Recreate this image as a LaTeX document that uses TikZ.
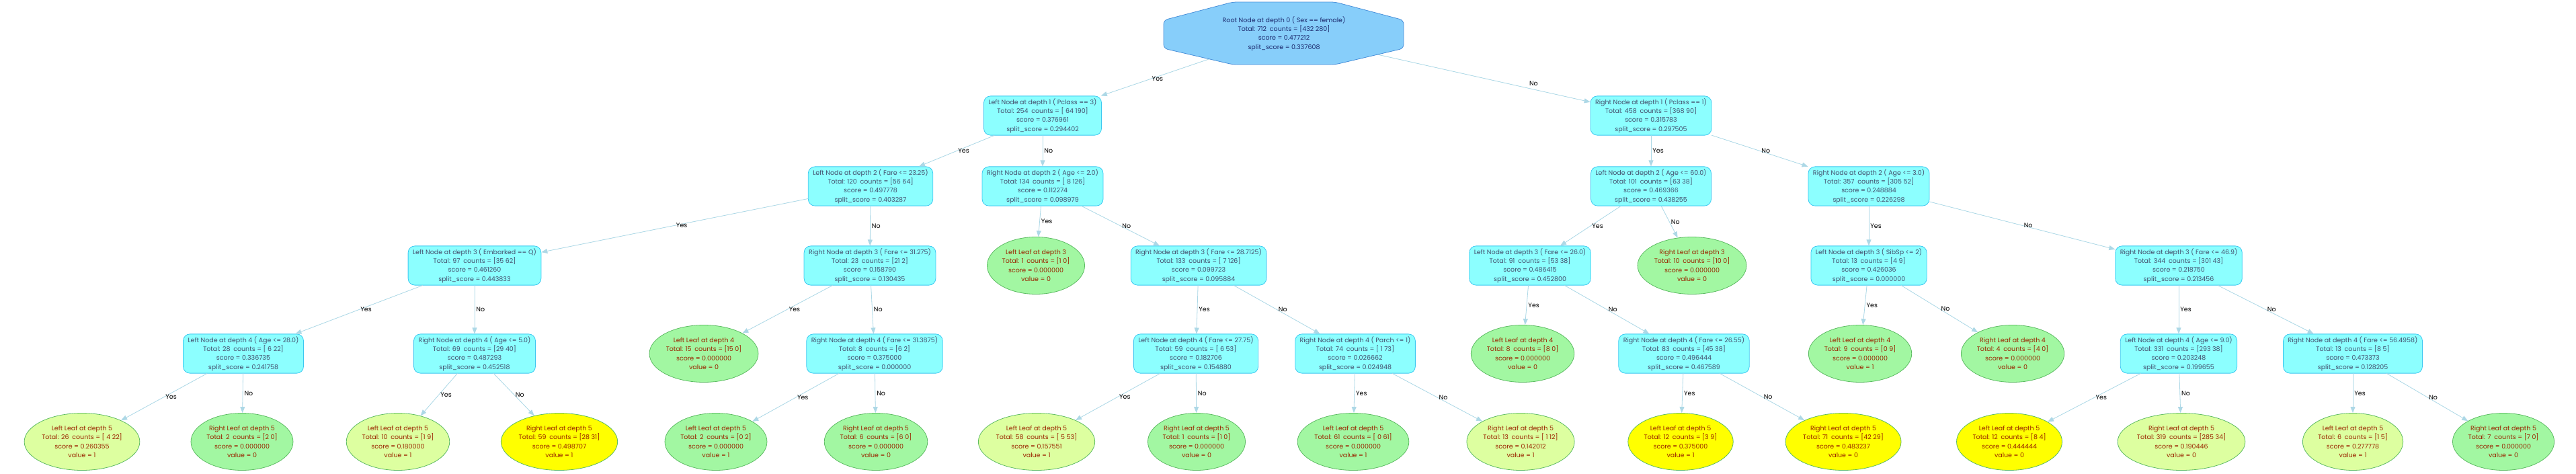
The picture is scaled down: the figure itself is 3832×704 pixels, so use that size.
\documentclass[tikz,border=0pt]{standalone}
\usepackage{fontspec}
\setmainfont{Poppins}
\usetikzlibrary{arrows.meta,shapes.geometric}
\definecolor{boxfill}{HTML}{8CFFFF}
\definecolor{boxline}{HTML}{3CC8F0}
\definecolor{boxtext}{HTML}{44506E}
\definecolor{rootfill}{HTML}{87CEFA}
\definecolor{rootline}{HTML}{4A90D9}
\definecolor{roottext}{HTML}{1C2A6E}
\definecolor{leafgreen}{HTML}{A2F7A2}
\definecolor{leaflight}{HTML}{DDFFA0}
\definecolor{leafyellow}{HTML}{FFFF00}
\definecolor{leafline}{HTML}{5DBB63}
\definecolor{leaftext}{HTML}{9A2500}
\definecolor{edgeblue}{HTML}{ADD8E6}
\pgfdeclarelayer{edgelayer}
\pgfdeclarelayer{shapelayer}
\pgfsetlayers{edgelayer,shapelayer,main}
\newcommand{\nodetext}[5]{#1\\Total: #2\enspace counts = [#3]\\score = #4\\split\_score = #5}
\newcommand{\leaftext}[5]{#1\\Total: #2\enspace counts = [#3]\\score = #4\\value = #5}

\begin{document}
\begin{tikzpicture}[x=1pt,y=-1pt,line cap=round,line join=round,>={Triangle[length=9pt,width=7pt]},
  every node/.style={font=\fontsize{9.5}{13.3}\selectfont,align=center},
  splitbox/.style={rectangle,rounded corners=10pt,draw=boxline,fill=boxfill,text=boxtext,inner xsep=7pt,inner ysep=3.5pt,line width=0.8pt},
  rootbox/.style={text=roottext,minimum width=357pt,minimum height=93pt},
  leafnode/.style={ellipse,draw=leafline,fill=leafgreen,text=leaftext,inner sep=1pt,minimum height=85pt,line width=0.8pt},
  lightleaf/.style={leafnode,fill=leaflight},
  yellowleaf/.style={leafnode,fill=leafyellow},
  branch/.style={->,draw=edgeblue,fill=edgeblue,line width=0.8pt},
  answer/.style={right,text=black,fill=none,inner sep=2pt}]
\useasboundingbox (0,0) rectangle (3832,704);
\node[rootbox] (root) at (1910,50) {\nodetext{Root Node at depth 0 ( Sex == female)}{712}{432 280}{0.477212}{0.337608}};
\node[splitbox] (l1) at (1551,172) {\nodetext{Left Node at depth 1 ( Pclass == 3)}{254}{ 64 190}{0.376961}{0.294402}};
\node[splitbox] (r1) at (2456,172) {\nodetext{Right Node at depth 1 ( Pclass == 1)}{458}{368 90}{0.315783}{0.297505}};
\node[splitbox] (l2a) at (1295,277) {\nodetext{Left Node at depth 2 ( Fare <= 23.25)}{120}{56 64}{0.497778}{0.403287}};
\node[splitbox] (r2a) at (1551,277) {\nodetext{Right Node at depth 2 ( Age <= 2.0)}{134}{ 8 126}{0.112274}{0.098979}};
\node[splitbox] (l2b) at (2456,277) {\nodetext{Left Node at depth 2 ( Age <= 60.0)}{101}{63 38}{0.469366}{0.438255}};
\node[splitbox] (r2b) at (2780,277) {\nodetext{Right Node at depth 2 ( Age <= 3.0)}{357}{305 52}{0.248884}{0.226298}};
\node[splitbox] (l3a) at (706,395) {\nodetext{Left Node at depth 3 ( Embarked == Q)}{97}{35 62}{0.461260}{0.443833}};
\node[splitbox] (r3a) at (1294,395) {\nodetext{Right Node at depth 3 ( Fare <= 31.275)}{23}{21 2}{0.158790}{0.130435}};
\node[leafnode] (lf3a) at (1541,395) {\leaftext{Left Leaf at depth 3}{1}{1 0}{0.000000}{0}};
\node[splitbox] (r3b) at (1783,395) {\nodetext{Right Node at depth 3 ( Fare <= 28.7125)}{133}{ 7 126}{0.099723}{0.095884}};
\node[splitbox] (l3c) at (2276,395) {\nodetext{Left Node at depth 3 ( Fare <= 26.0)}{91}{53 38}{0.486415}{0.452800}};
\node[leafnode] (lf3b) at (2517,395) {\leaftext{Right Leaf at depth 3}{10}{10 0}{0.000000}{0}};
\node[splitbox] (l3d) at (2780,395) {\nodetext{Left Node at depth 3 ( SibSp <= 2)}{13}{4 9}{0.426036}{0.000000}};
\node[splitbox] (r3d) at (3241,395) {\nodetext{Right Node at depth 3 ( Fare <= 46.9)}{344}{301 43}{0.218750}{0.213456}};
\node[splitbox] (l4a) at (362,526) {\nodetext{Left Node at depth 4 ( Age <= 28.0)}{28}{ 6 22}{0.336735}{0.241758}};
\node[splitbox] (r4a) at (706,526) {\nodetext{Right Node at depth 4 ( Age <= 5.0)}{69}{29 40}{0.487293}{0.452518}};
\node[leafnode] (lf4a) at (1047,526) {\leaftext{Left Leaf at depth 4}{15}{15 0}{0.000000}{0}};
\node[splitbox] (r4b) at (1301,526) {\nodetext{Right Node at depth 4 ( Fare <= 31.3875)}{8}{6 2}{0.375000}{0.000000}};
\node[splitbox] (l4c) at (1779,526) {\nodetext{Left Node at depth 4 ( Fare <= 27.75)}{59}{ 6 53}{0.182706}{0.154880}};
\node[splitbox] (r4c) at (2016,526) {\nodetext{Right Node at depth 4 ( Parch <= 1)}{74}{ 1 73}{0.026662}{0.024948}};
\node[leafnode] (lf4b) at (2265,526) {\leaftext{Left Leaf at depth 4}{8}{8 0}{0.000000}{0}};
\node[splitbox] (r4d) at (2505,526) {\nodetext{Right Node at depth 4 ( Fare <= 26.55)}{83}{45 38}{0.496444}{0.467589}};
\node[leafnode] (lf4c) at (2767,526) {\leaftext{Left Leaf at depth 4}{9}{0 9}{0.000000}{1}};
\node[leafnode] (lf4d) at (2994,526) {\leaftext{Right Leaf at depth 4}{4}{4 0}{0.000000}{0}};
\node[splitbox] (l4e) at (3241,526) {\nodetext{Left Node at depth 4 ( Age <= 9.0)}{331}{293 38}{0.203248}{0.199655}};
\node[splitbox] (r4e) at (3500,526) {\nodetext{Right Node at depth 4 ( Fare <= 56.4958)}{13}{8 5}{0.473373}{0.128205}};
\node[lightleaf] (lf1) at (122,657) {\leaftext{Left Leaf at depth 5}{26}{ 4 22}{0.260355}{1}};
\node[leafnode] (lf2) at (360,657) {\leaftext{Right Leaf at depth 5}{2}{2 0}{0.000000}{0}};
\node[lightleaf] (lf3) at (592,657) {\leaftext{Left Leaf at depth 5}{10}{1 9}{0.180000}{1}};
\node[yellowleaf] (lf4) at (832,657) {\leaftext{Right Leaf at depth 5}{59}{28 31}{0.498707}{1}};
\node[leafnode] (lf5) at (1065,657) {\leaftext{Left Leaf at depth 5}{2}{0 2}{0.000000}{1}};
\node[leafnode] (lf6) at (1303,657) {\leaftext{Right Leaf at depth 5}{6}{6 0}{0.000000}{0}};
\node[lightleaf] (lf7) at (1542,657) {\leaftext{Left Leaf at depth 5}{58}{ 5 53}{0.157551}{1}};
\node[leafnode] (lf8) at (1780,657) {\leaftext{Right Leaf at depth 5}{1}{1 0}{0.000000}{0}};
\node[leafnode] (lf9) at (2013,657) {\leaftext{Left Leaf at depth 5}{61}{ 0 61}{0.000000}{1}};
\node[lightleaf] (lf10) at (2262,657) {\leaftext{Right Leaf at depth 5}{13}{ 1 12}{0.142012}{1}};
\node[yellowleaf] (lf11) at (2500,657) {\leaftext{Left Leaf at depth 5}{12}{3 9}{0.375000}{1}};
\node[yellowleaf] (lf12) at (2742,657) {\leaftext{Right Leaf at depth 5}{71}{42 29}{0.483237}{0}};
\node[yellowleaf] (lf13) at (2989,657) {\leaftext{Left Leaf at depth 5}{12}{8 4}{0.444444}{0}};
\node[lightleaf] (lf14) at (3245,657) {\leaftext{Right Leaf at depth 5}{319}{285 34}{0.190446}{0}};
\node[lightleaf] (lf15) at (3500,657) {\leaftext{Left Leaf at depth 5}{6}{1 5}{0.277778}{1}};
\node[leafnode] (lf16) at (3724,657) {\leaftext{Right Leaf at depth 5}{7}{7 0}{0.000000}{0}};
\begin{pgfonlayer}{shapelayer}
\draw[draw=rootline,fill=rootfill,line width=0.8pt,rounded corners=6pt] ([shift={(-76,-47)}]root.center) -- ([shift={(76,-47)}]root.center) -- ([shift={(178,-20)}]root.center) -- ([shift={(178,22)}]root.center) -- ([shift={(76,46)}]root.center) -- ([shift={(-76,46)}]root.center) -- ([shift={(-179,22)}]root.center) -- ([shift={(-179,-20)}]root.center) -- cycle;
\end{pgfonlayer}
\begin{pgfonlayer}{edgelayer}
\draw[branch] (root.center) -- node[answer,pos=0.73]{Yes} (l1);
\draw[branch] (root.center) -- node[answer,pos=0.73,xshift=30pt]{No} (r1);
\end{pgfonlayer}
\draw[branch] (l1) -- node[answer]{Yes} (l2a);
\draw[branch] (l1) -- node[answer]{No} (r2a);
\draw[branch] (r1) -- node[answer]{Yes} (l2b);
\draw[branch] (r1) -- node[answer]{No} (r2b);
\draw[branch] (l2a) -- node[answer]{Yes} (l3a);
\draw[branch] (l2a) -- node[answer]{No} (r3a);
\draw[branch] (r2a) -- node[answer]{Yes} (lf3a);
\draw[branch] (r2a) -- node[answer]{No} (r3b);
\draw[branch] (l2b) -- node[answer]{Yes} (l3c);
\draw[branch] (l2b) -- node[answer]{No} (lf3b);
\draw[branch] (r2b) -- node[answer]{Yes} (l3d);
\draw[branch] (r2b) -- node[answer]{No} (r3d);
\draw[branch] (l3a) -- node[answer]{Yes} (l4a);
\draw[branch] (l3a) -- node[answer]{No} (r4a);
\draw[branch] (r3a) -- node[answer]{Yes} (lf4a);
\draw[branch] (r3a) -- node[answer]{No} (r4b);
\draw[branch] (r3b) -- node[answer]{Yes} (l4c);
\draw[branch] (r3b) -- node[answer]{No} (r4c);
\draw[branch] (l3c) -- node[answer]{Yes} (lf4b);
\draw[branch] (l3c) -- node[answer]{No} (r4d);
\draw[branch] (l3d) -- node[answer]{Yes} (lf4c);
\draw[branch] (l3d) -- node[answer]{No} (lf4d);
\draw[branch] (r3d) -- node[answer]{Yes} (l4e);
\draw[branch] (r3d) -- node[answer]{No} (r4e);
\draw[branch] (l4a) -- node[answer]{Yes} (lf1);
\draw[branch] (l4a) -- node[answer]{No} (lf2);
\draw[branch] (r4a) -- node[answer]{Yes} (lf3);
\draw[branch] (r4a) -- node[answer]{No} (lf4);
\draw[branch] (r4b) -- node[answer]{Yes} (lf5);
\draw[branch] (r4b) -- node[answer]{No} (lf6);
\draw[branch] (l4c) -- node[answer]{Yes} (lf7);
\draw[branch] (l4c) -- node[answer]{No} (lf8);
\draw[branch] (r4c) -- node[answer]{Yes} (lf9);
\draw[branch] (r4c) -- node[answer]{No} (lf10);
\draw[branch] (r4d) -- node[answer]{Yes} (lf11);
\draw[branch] (r4d) -- node[answer]{No} (lf12);
\draw[branch] (l4e) -- node[answer]{Yes} (lf13);
\draw[branch] (l4e) -- node[answer]{No} (lf14);
\draw[branch] (r4e) -- node[answer]{Yes} (lf15);
\draw[branch] (r4e) -- node[answer]{No} (lf16);
\end{tikzpicture}
\end{document}
